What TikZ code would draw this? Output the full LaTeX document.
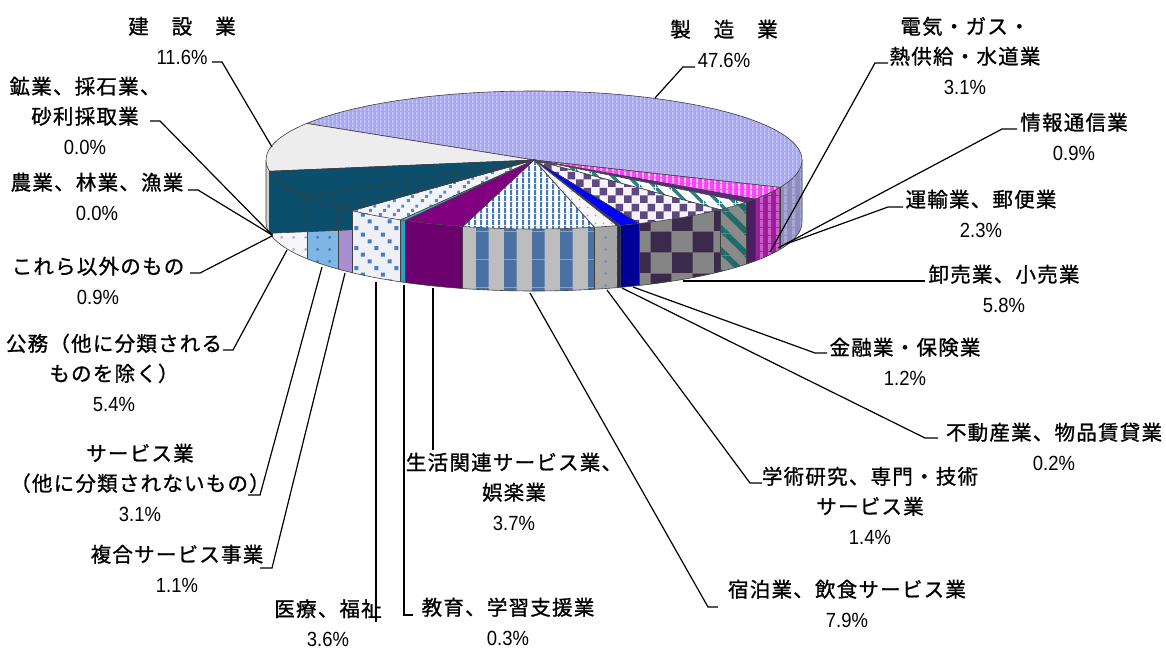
\documentclass[tikz,border=0pt]{standalone}
\usepackage{fontspec}
\setmainfont[FakeStretch=0.9]{Liberation Sans}
\newfontfamily\jpf[LetterSpace=6,FakeBold=1]{Noto Sans CJK JP}
\usetikzlibrary{patterns}
% ---------- patterns ----------
\newcommand\mkvpat[3]{\pgfdeclarepatternformonly{#1}{\pgfpointorigin}{\pgfqpoint{#2}{#2}}{\pgfqpoint{#2}{#2}}{\pgfpathrectangle{\pgfpointorigin}{\pgfqpoint{#3}{#2}}\pgfusepath{fill}}}
\mkvpat{pvA}{4pt}{1.6pt}
\mkvpat{pvB}{6pt}{2.6pt}
\mkvpat{pvC}{8pt}{3.5pt}
\mkvpat{pvW}{28pt}{13pt}
\pgfdeclarepatternformonly{pdiagA}{\pgfpointorigin}{\pgfqpoint{16pt}{16pt}}{\pgfqpoint{16pt}{16pt}}{%
 \pgfpathmoveto{\pgfqpoint{0pt}{13.5pt}}\pgfpathlineto{\pgfqpoint{13.5pt}{0pt}}\pgfpathlineto{\pgfqpoint{16pt}{0pt}}%
 \pgfpathlineto{\pgfqpoint{16pt}{2.5pt}}\pgfpathlineto{\pgfqpoint{2.5pt}{16pt}}\pgfpathlineto{\pgfqpoint{0pt}{16pt}}\pgfpathclose
 \pgfpathmoveto{\pgfqpoint{0pt}{0pt}}\pgfpathlineto{\pgfqpoint{2.5pt}{0pt}}\pgfpathlineto{\pgfqpoint{0pt}{2.5pt}}\pgfpathclose
 \pgfpathmoveto{\pgfqpoint{16pt}{16pt}}\pgfpathlineto{\pgfqpoint{13.5pt}{16pt}}\pgfpathlineto{\pgfqpoint{16pt}{13.5pt}}\pgfpathclose
 \pgfusepath{fill}}
\pgfdeclarepatternformonly{pdiagB}{\pgfpointorigin}{\pgfqpoint{22pt}{22pt}}{\pgfqpoint{22pt}{22pt}}{%
 \pgfpathmoveto{\pgfqpoint{0pt}{18pt}}\pgfpathlineto{\pgfqpoint{18pt}{0pt}}\pgfpathlineto{\pgfqpoint{22pt}{0pt}}%
 \pgfpathlineto{\pgfqpoint{22pt}{4pt}}\pgfpathlineto{\pgfqpoint{4pt}{22pt}}\pgfpathlineto{\pgfqpoint{0pt}{22pt}}\pgfpathclose
 \pgfpathmoveto{\pgfqpoint{0pt}{0pt}}\pgfpathlineto{\pgfqpoint{4pt}{0pt}}\pgfpathlineto{\pgfqpoint{0pt}{4pt}}\pgfpathclose
 \pgfpathmoveto{\pgfqpoint{22pt}{22pt}}\pgfpathlineto{\pgfqpoint{18pt}{22pt}}\pgfpathlineto{\pgfqpoint{22pt}{18pt}}\pgfpathclose
 \pgfusepath{fill}}
\pgfdeclarepatternformonly{pchkA}{\pgfpointorigin}{\pgfqpoint{16pt}{16pt}}{\pgfqpoint{16pt}{16pt}}{\pgfpathrectangle{\pgfpointorigin}{\pgfqpoint{8pt}{8pt}}\pgfpathrectangle{\pgfqpoint{8pt}{8pt}}{\pgfqpoint{8pt}{8pt}}\pgfusepath{fill}}
\pgfdeclarepatternformonly{pchkB}{\pgfpointorigin}{\pgfqpoint{42pt}{42pt}}{\pgfqpoint{42pt}{42pt}}{\pgfpathrectangle{\pgfpointorigin}{\pgfqpoint{21pt}{21pt}}\pgfpathrectangle{\pgfqpoint{21pt}{21pt}}{\pgfqpoint{21pt}{21pt}}\pgfusepath{fill}}
\pgfdeclarepatternformonly{pdotA}{\pgfpointorigin}{\pgfqpoint{8pt}{8pt}}{\pgfqpoint{8pt}{8pt}}{\pgfpathcircle{\pgfqpoint{4pt}{4pt}}{1.1pt}\pgfusepath{fill}}
\pgfdeclarepatternformonly{pdotB}{\pgfpointorigin}{\pgfqpoint{12pt}{12pt}}{\pgfqpoint{12pt}{12pt}}{\pgfpathcircle{\pgfqpoint{6pt}{6pt}}{1.8pt}\pgfusepath{fill}}
\pgfdeclarepatternformonly{pmedS}{\pgfpointorigin}{\pgfqpoint{20pt}{20pt}}{\pgfqpoint{20pt}{20pt}}{\pgfpathrectangle{\pgfqpoint{1pt}{15pt}}{\pgfqpoint{4pt}{4pt}}\pgfpathrectangle{\pgfqpoint{8pt}{8pt}}{\pgfqpoint{4pt}{4pt}}\pgfpathrectangle{\pgfqpoint{15pt}{1pt}}{\pgfqpoint{4pt}{4pt}}\pgfusepath{fill}}
\pgfdeclarepatternformonly{pmedT}{\pgfpointorigin}{\pgfqpoint{14pt}{14pt}}{\pgfqpoint{14pt}{14pt}}{\pgfpathrectangle{\pgfqpoint{1pt}{1pt}}{\pgfqpoint{3pt}{3pt}}\pgfpathrectangle{\pgfqpoint{5.5pt}{5.5pt}}{\pgfqpoint{3pt}{3pt}}\pgfpathrectangle{\pgfqpoint{10pt}{10pt}}{\pgfqpoint{3pt}{3pt}}\pgfusepath{fill}}
% ---------- colours ----------
\definecolor{mfgtop}{HTML}{A8A8F0}\definecolor{mfgline}{HTML}{C6C6FA}
\definecolor{mfgside}{HTML}{8C8CBE}\definecolor{mfgsline}{HTML}{A8A8D4}
\definecolor{electop}{HTML}{FF40FF}\definecolor{elecline}{HTML}{FFB4FF}
\definecolor{elecside}{HTML}{9C1C9C}\definecolor{elecsline}{HTML}{C860C8}
\definecolor{infotop}{HTML}{5A2A7A}\definecolor{infoside}{HTML}{4A1E62}
\definecolor{tranline}{HTML}{2E8080}\definecolor{transide}{HTML}{8A8A8A}\definecolor{transline}{HTML}{1F6A6A}
\definecolor{wholtop}{HTML}{F6F2F8}\definecolor{wholline}{HTML}{5C4A80}
\definecolor{wholside}{HTML}{858585}\definecolor{wholsline}{HTML}{3A2A4C}
\definecolor{fintop}{HTML}{0000FF}\definecolor{finside}{HTML}{000096}
\definecolor{realtop}{HTML}{30306A}\definecolor{realside}{HTML}{282858}
\definecolor{acadtop}{HTML}{F6F6FA}\definecolor{acaddot}{HTML}{8CA8D8}
\definecolor{acadside}{HTML}{A6A6A6}\definecolor{acadsdot}{HTML}{7090C0}
\definecolor{accline}{HTML}{4A78B0}\definecolor{accside}{HTML}{BDBDBD}\definecolor{accsline}{HTML}{4A70A4}
\definecolor{lifetop}{HTML}{800080}\definecolor{lifeside}{HTML}{6C006C}
\definecolor{edutop}{HTML}{40B8D8}\definecolor{eduside}{HTML}{2AA0C8}
\definecolor{medtop}{HTML}{F2F4FA}\definecolor{medline}{HTML}{5A88CC}
\definecolor{medside}{HTML}{EEF0F6}\definecolor{medsline}{HTML}{4A7CC4}
\definecolor{comptop}{HTML}{A890D0}
\definecolor{servtop}{HTML}{7EB6E6}\definecolor{servdot}{HTML}{3A7CC4}
\definecolor{pubtop}{HTML}{F6F6FA}\definecolor{pubdot}{HTML}{B8B0DC}
\definecolor{tealw}{HTML}{0B4F6C}
\definecolor{constop}{HTML}{EDEDED}\definecolor{consside}{HTML}{D2D2D2}
\definecolor{edgec}{HTML}{404040}
% ---------- geometry ----------
\def\rx{268pt}\def\ry{69pt}\def\dep{62pt}
\newcommand\topslice[3]{\path[#3,edge] (0,0) -- (#1:268pt and 69pt) arc[start angle=#1,end angle=#2,x radius=\rx,y radius=\ry] -- cycle;}
\newcommand\sideslice[3]{\path[#3] (#1:268pt and 69pt) arc[start angle=#1,end angle=#2,x radius=\rx,y radius=\ry] -- ++(0pt,-\dep) arc[start angle=#2,end angle=#1,x radius=\rx,y radius=\ry] -- cycle;}
\newcommand\leadr[4]{\coordinate (#1a) at #2; \coordinate (#1b) at #3; \coordinate (#1c) at #4; \draw[lead] (#1a) -- (#1b) -- (#1c);}
\newcommand\leadq[3]{\coordinate (#1a) at #2; \coordinate (#1b) at #3; \draw[lead] (#1a) -- (#1b);}
\tikzset{
 pf/.style n args={3}{preaction={fill=#1}, pattern=#2, pattern color=#3},
 edge/.style={draw=edgec, line width=0.6pt},
 lead/.style={draw=black, line width=1.2pt},
 lab/.style={font=\fontsize{20.5}{30}\selectfont, align=center, inner sep=0pt, text=black},
}
\begin{document}
\begin{tikzpicture}[x=1pt,y=-1pt]
\fill[white] (0,0) rectangle (1166,651);
\useasboundingbox (0,0) rectangle (1166,651);
\begin{scope}[shift={(534,160)}]
 % sides
 \sideslice{0}{-23.36}{pf={mfgside}{pvC}{mfgsline}}
 \sideslice{-23.36}{-34.52}{pf={elecside}{pvC}{elecsline}}
 \sideslice{-34.52}{-37.76}{fill=infoside}
 \sideslice{-37.76}{-46.04}{pf={transide}{pdiagB}{transline}}
 \sideslice{-46.04}{-66.92}{pf={wholside}{pchkB}{wholsline}}
 \sideslice{-66.92}{-71.24}{fill=finside}
 \sideslice{-71.24}{-71.96}{fill=realside}
 \sideslice{-71.96}{-77}{pf={acadside}{pdotB}{acadsdot}}
 \sideslice{-77}{-105.44}{pf={accside}{pvW}{accsline}}
 \sideslice{-105.44}{-118.76}{fill=lifeside}
 \sideslice{-118.76}{-119.84}{fill=eduside}
 \sideslice{-119.84}{-132.8}{pf={medside}{pmedS}{medsline}}
 \sideslice{-132.8}{-136.76}{fill=comptop}
 \sideslice{-136.76}{-147.92}{pf={servtop}{pdotB}{servdot}}
 \sideslice{-147.92}{-167.36}{pf={pubtop}{pdotB}{pubdot}}
 \sideslice{-167.36}{-170.6}{fill=tealw}
 \sideslice{-170.6}{-180}{fill=consside}
 \draw[edge] (0:268pt and 69pt) -- ++(0pt,-\dep) arc[start angle=0,end angle=-180,x radius=\rx,y radius=\ry] -- ++(0pt,\dep);
 \foreach \a in {-23.36,-34.52,-37.76,-46.04,-66.92,-71.24,-71.96,-77,-105.44,-118.76,-119.84,-132.8,-136.76,-147.92,-167.36,-170.6}
   \draw[edge] (\a:268pt and 69pt) -- ++(0pt,-\dep);
 % tops
 \topslice{148}{-23.36}{pf={mfgtop}{pvA}{mfgline}}
 \topslice{-23.36}{-34.52}{pf={electop}{pvB}{elecline}}
 \topslice{-34.52}{-37.76}{fill=infotop}
 \topslice{-37.76}{-46.04}{pf={white}{pdiagA}{tranline}}
 \topslice{-46.04}{-66.92}{pf={wholtop}{pchkA}{wholline}}
 \topslice{-66.92}{-71.24}{fill=fintop}
 \topslice{-71.24}{-71.96}{fill=realtop}
 \topslice{-71.96}{-77}{pf={acadtop}{pdotA}{acaddot}}
 \topslice{-77}{-105.44}{pf={white}{pvB}{accline}}
 \topslice{-105.44}{-118.76}{fill=lifetop}
 \topslice{-118.76}{-119.84}{fill=edutop}
 \topslice{-119.84}{-132.8}{pf={medtop}{pmedT}{medline}}
 \topslice{-132.8}{-136.76}{fill=comptop}
 \topslice{-136.76}{-147.92}{pf={servtop}{pdotB}{servdot}}
 \topslice{-147.92}{-167.36}{pf={pubtop}{pdotB}{pubdot}}
 \topslice{-167.36}{-170.6}{fill=tealw}
 \topslice{-170.6}{-212}{fill=constop}
 % teal radial wall
 \path[fill=tealw,edge] (0,0) -- (-170.6:268pt and 69pt) -- ++(0pt,-\dep) -- (-182.1pt,-69.8pt) -- (-132.8:268pt and 69pt) -- cycle;
 \draw[edge] (-170.6:268pt and 69pt) arc[start angle=-170.6,end angle=-132.8,x radius=\rx,y radius=\ry];
 \draw[edge] (0,0) -- (-147.92:268pt and 69pt) -- ++(0pt,-35.1pt);
 \draw[edge] (0,0) -- (-136.76:268pt and 69pt) -- ++(0pt,-23pt);
\end{scope}
% ---------- labels ----------
\node[lab] (ken) at (182,40.5) {{\jpf 建　設　業}\\11.6\%};
\node[lab] (kou) at (85,115.5) {{\jpf 鉱業、採石業、}\\{\jpf 砂利採取業}\\0.0\%};
\node[lab] (nou) at (97,196.5) {{\jpf 農業、林業、漁業}\\0.0\%};
\node[lab] (oth) at (98,280.5) {{\jpf これら以外のもの}\\0.9\%};
\node[lab] (kom) at (114,372.5) {{\jpf 公務（他に分類される}\\{\jpf ものを除く）}\\5.4\%};
\node[lab] (ser) at (140,482.5) {{\jpf サービス業}\\{\jpf （他に分類されないもの）}\\3.1\%};
\node[lab] (fuk) at (177,568.5) {{\jpf 複合サービス事業}\\1.1\%};
\node[lab] (iry) at (328,623) {{\jpf 医療、福祉}\\3.6\%};
\node[lab] (kyo) at (508,621.5) {{\jpf 教育、学習支援業}\\0.3\%};
\node[lab] (sei) at (514,491.5) {{\jpf 生活関連サービス業、}\\{\jpf 娯楽業}\\3.7\%};
\node[lab] (shu) at (847,603.5) {{\jpf 宿泊業、飲食サービス業}\\7.9\%};
\node[lab] (gak) at (870,505.5) {{\jpf 学術研究、専門・技術}\\{\jpf サービス業}\\1.4\%};
\node[lab] (fud) at (1054,446.5) {{\jpf 不動産業、物品賃貸業}\\0.2\%};
\node[lab] (kin) at (905,361.5) {{\jpf 金融業・保険業}\\1.2\%};
\node[lab] (oro) at (1004,288.5) {{\jpf 卸売業、小売業}\\5.8\%};
\node[lab] (unu) at (981,213.5) {{\jpf 運輸業、郵便業}\\2.3\%};
\node[lab] (joh) at (1074,136.5) {{\jpf 情報通信業}\\0.9\%};
\node[lab] (den) at (965,55.5) {{\jpf 電気・ガス・}\\{\jpf 熱供給・水道業}\\3.1\%};
\node[lab] (sei2) at (724,43.5) {{\jpf 製　造　業}\\47.6\%};
% ---------- leaders ----------
\leadr{Lken}{(212,62)}{(222,62)}{(272,147)}
\leadr{Lkou}{(150,121)}{(160,121)}{(272,235)}
\leadr{Lnou}{(188,190)}{(198,190)}{(272,235)}
\leadr{Loth}{(190,273)}{(200,273)}{(272,236)}
\leadr{Lkom}{(223,350)}{(233,350)}{(287,250)}
\leadr{Lser}{(248,495)}{(260,495)}{(322,267)}
\leadr{Lfuk}{(260,568)}{(272,568)}{(345,273)}
\leadq{Liry}{(376,622)}{(376,282)}
\leadr{Lkyo}{(413,615)}{(404,615)}{(404,285)}
\leadq{Lsei}{(433,450)}{(433,288)}
\leadr{Lshu}{(718,607)}{(708,607)}{(530,293)}
\leadr{Lgak}{(762,483)}{(750,483)}{(607,290)}
\leadr{Lfud}{(938,438)}{(925,438)}{(622,288)}
\leadr{Lkin}{(827,353)}{(815,353)}{(633,287)}
\leadq{Loro}{(925,281)}{(683,281)}
\leadr{Lunu}{(903,207)}{(888,207)}{(786,244)}
\leadr{Ljoh}{(1017,129)}{(1002,129)}{(778,248)}
\leadr{Lden}{(888,63)}{(875,63)}{(770,252)}
\leadr{Lmfg}{(695,67)}{(683,67)}{(655,98)}
\end{tikzpicture}
\end{document}
